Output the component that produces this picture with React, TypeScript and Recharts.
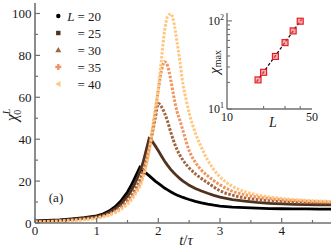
import { LineChart, Line, XAxis, YAxis, Legend, ComposedChart, Scatter } from 'recharts';

// time grid t/tau and chi_0^L for each system size
const times = [0, 0.2, 0.4, 0.6, 0.8, 1.0, 1.1, 1.2, 1.3, 1.4, 1.5, 1.55, 1.6, 1.65, 1.7, 1.75, 1.8, 1.85, 1.9, 1.95, 2.0, 2.05, 2.1, 2.15, 2.2, 2.25, 2.3, 2.35, 2.4, 2.45, 2.5, 2.6, 2.7, 2.8, 2.9, 3.0, 3.2, 3.4, 3.6, 3.8, 4.0, 4.2, 4.4, 4.6, 4.8];
const chi20 = [1.0, 1.2, 1.5, 2.0, 2.6, 3.4, 4.3, 5.7, 7.8, 10.8, 14.8, 17.4, 20.3, 23.4, 26.5, 25.0, 23.8, 22.6, 21.3, 20.0, 18.9, 17.8, 16.7, 15.8, 14.9, 14.1, 13.4, 12.8, 12.2, 11.7, 11.2, 10.3, 9.6, 9.0, 8.5, 8.1, 7.6, 7.3, 7.1, 6.9, 6.8, 6.7, 6.7, 6.6, 6.6];
const chi25 = [0.8, 1.0, 1.3, 1.7, 2.3, 3.0, 3.8, 5.0, 6.8, 9.3, 12.8, 15.0, 17.6, 20.8, 24.5, 28.6, 34.5, 40.2, 39.0, 36.8, 34.5, 32.0, 29.6, 27.5, 25.6, 24.0, 22.5, 21.2, 20.0, 19.0, 18.0, 16.5, 15.3, 14.2, 13.2, 12.4, 11.2, 10.4, 9.8, 9.4, 9.1, 8.9, 8.8, 8.7, 8.7];
const chi30 = [0.6, 0.8, 1.1, 1.5, 2.0, 2.7, 3.4, 4.4, 5.9, 8.0, 11.0, 12.8, 15.0, 17.5, 20.5, 24.5, 29.5, 35.5, 42.5, 50.0, 57.0, 55.5, 52.5, 48.5, 43.5, 39.0, 35.3, 32.3, 30.0, 28.0, 26.3, 23.5, 21.2, 19.2, 17.2, 15.4, 13.3, 12.0, 11.2, 10.6, 10.2, 10.0, 9.8, 9.7, 9.6];
const chi35 = [0.5, 0.7, 0.9, 1.3, 1.8, 2.5, 3.1, 4.0, 5.3, 7.2, 9.8, 11.5, 13.5, 15.8, 18.5, 22.5, 28.0, 35.0, 43.5, 53.5, 63.5, 72.5, 77.0, 75.0, 68.5, 60.5, 53.5, 49.0, 44.0, 39.0, 34.5, 29.0, 25.2, 22.5, 20.2, 18.2, 15.2, 13.5, 12.4, 11.7, 11.1, 10.7, 10.4, 10.2, 10.0];
const chi40 = [0.4, 0.6, 0.8, 1.1, 1.6, 2.3, 2.9, 3.7, 4.9, 6.6, 9.0, 10.6, 12.5, 14.8, 17.5, 21.5, 27.0, 34.0, 43.0, 53.0, 64.0, 78.0, 91.5, 98.5, 99.8, 96.0, 87.0, 77.0, 66.0, 59.0, 52.5, 43.0, 36.0, 30.0, 25.5, 22.0, 17.5, 15.0, 13.4, 12.4, 11.7, 11.2, 10.8, 10.5, 10.3];

const sizeLabels = ['20', '25', '30', '35', '40'];
const seriesKeys = ['L20', 'L25', 'L30', 'L35', 'L40'];
const seriesColors = ['#000000', '#50321f', '#a0643f', '#ef955f', '#ffc77f'];
const seriesMarkers = ['circle', 'square', 'triangle', 'plus', 'tleft'];

const xTicks = [0, 0.5, 1, 1.5, 2, 2.5, 3, 3.5, 4, 4.5];
const yTicks = [0, 10, 20, 30, 40, 50, 60, 70, 80, 90, 100];

// inset: peak height vs L
const insetL = [18, 20, 25, 30, 35, 40];
const insetChiMax = [21.4, 26.1, 39.5, 56.7, 77, 99.3];
const fitL = [17.5, 41];
const fitChiMax = [20.3, 104];
const insetXTicks = [10, 20, 30, 40, 50];
const insetYTicks = [10, 20, 30, 40, 50, 60, 70, 80, 90, 100];

const FONT = '"Liberation Serif", "DejaVu Serif", serif';
const AXIS = '#707070';
const TXT = '#1a1a1a';

const rows = times.map((t, i) => ({
  t,
  L20: chi20[i],
  L25: chi25[i],
  L30: chi30[i],
  L35: chi35[i],
  L40: chi40[i],
}));

const insetData = insetL.map((L, i) => ({ L, chi: insetChiMax[i] }));
const fitData = fitL.map((L, i) => ({ L, chi: fitChiMax[i] }));

function Marker({ kind, color, cx, cy }: { kind: string; color: string; cx: number; cy: number }) {
  if (kind === 'circle') return <circle cx={cx} cy={cy} r={2.2} fill={color} />;
  if (kind === 'square') return <rect x={cx - 2.2} y={cy - 2.2} width={4.4} height={4.4} fill={color} />;
  if (kind === 'triangle')
    return <polygon points={`${cx},${cy - 3} ${cx - 3},${cy + 2.2} ${cx + 3},${cy + 2.2}`} fill={color} />;
  if (kind === 'plus')
    return (
      <g fill={color}>
        <rect x={cx - 3} y={cy - 1.2} width={6} height={2.4} />
        <rect x={cx - 1.2} y={cy - 3} width={2.4} height={6} />
      </g>
    );
  return <polygon points={`${cx - 3},${cy} ${cx + 2.2},${cy - 3} ${cx + 2.2},${cy + 3}`} fill={color} />;
}

function renderLegend() {
  return (
    <svg width={70} height={90} style={{ display: 'block' }}>
      {sizeLabels.map((lab, i) => {
        const cy = 11 + i * 17;
        return (
          <g key={lab}>
            <Marker kind={seriesMarkers[i]} color={seriesColors[i]} cx={13.3} cy={cy} />
            <text x={56} y={cy + 4.5} textAnchor="end" fontSize={13} fontFamily={FONT} fill={TXT}>
              {i === 0 && <tspan fontStyle="italic">L </tspan>}= {lab}
            </text>
          </g>
        );
      })}
    </svg>
  );
}

function BottomTick(props: any) {
  const { x, y, payload } = props;
  const major = Number.isInteger(payload.value);
  return (
    <g>
      <line x1={x} x2={x} y1={y} y2={y - (major ? 5 : 3)} stroke={AXIS} strokeWidth={1.2} />
      {major && (
        <text x={x} y={y + 12} textAnchor="middle" fontSize={13} fontFamily={FONT} fill={TXT}>
          {payload.value}
        </text>
      )}
    </g>
  );
}

function LeftTick(props: any) {
  const { x, y, payload } = props;
  const major = payload.value % 20 === 0;
  return (
    <g>
      <line x1={x} x2={x + (major ? 5 : 3)} y1={y} y2={y} stroke={AXIS} strokeWidth={1.2} />
      {major && (
        <text x={x - 3.5} y={y + 4.5} textAnchor="end" fontSize={13} fontFamily={FONT} fill={TXT}>
          {payload.value}
        </text>
      )}
    </g>
  );
}

function InsetBottomTick(props: any) {
  const { x, y, payload } = props;
  const labeled = payload.value === 10 || payload.value === 50;
  return (
    <g>
      {!labeled && <line x1={x} x2={x} y1={y} y2={y - 3} stroke={AXIS} strokeWidth={1.1} />}
      {labeled && (
        <text x={x} y={y + 12} textAnchor="middle" fontSize={12} fontFamily={FONT} fill={TXT}>
          {payload.value}
        </text>
      )}
    </g>
  );
}

function InsetLeftTick(props: any) {
  const { x, y, payload } = props;
  const v = payload.value;
  const labeled = v === 10 || v === 100;
  return (
    <g>
      <line x1={x} x2={x + (labeled ? 5 : 3)} y1={y} y2={y} stroke={AXIS} strokeWidth={1.1} />
      {labeled && (
        <text x={x - 3} y={y + 4} textAnchor="end" fontSize={12} fontFamily={FONT} fill={TXT}>
          10
          <tspan fontSize={8} dy={-5}>
            {v === 10 ? '1' : '2'}
          </tspan>
        </text>
      )}
    </g>
  );
}

function RedSquare(props: any) {
  const { cx, cy } = props;
  return (
    <rect x={cx - 3} y={cy - 3} width={6} height={6} fill="rgba(255,110,110,0.6)" stroke="#e8141c" strokeWidth={1.1} />
  );
}

export default function App() {
  return (
    <div style={{ position: 'absolute', left: 0, top: 0, width: 332, height: 250, background: '#fff', fontFamily: FONT }}>
      <LineChart width={332} height={250} data={rows} margin={{ top: 3, right: 1, left: 0, bottom: 0 }}>
        <XAxis
          dataKey="t"
          type="number"
          domain={[0, 4.8]}
          ticks={xTicks}
          interval={0}
          height={27}
          allowDataOverflow
          axisLine={{ stroke: AXIS, strokeWidth: 1.6 }}
          tickLine={false}
          tickSize={0}
          tickMargin={0}
          tick={(p: any) => <BottomTick {...p} />}
        />
        <YAxis
          type="number"
          domain={[0, 105]}
          ticks={yTicks}
          interval={0}
          width={35}
          allowDataOverflow
          axisLine={{ stroke: AXIS, strokeWidth: 1.6 }}
          tickLine={false}
          tickSize={0}
          tickMargin={0}
          tick={(p: any) => <LeftTick {...p} />}
        />
        <XAxis
          xAxisId="top"
          orientation="top"
          type="number"
          domain={[0, 4.8]}
          height={0}
          tick={false}
          tickLine={false}
          axisLine={{ stroke: AXIS, strokeWidth: 1.6 }}
        />
        <YAxis
          yAxisId="right"
          orientation="right"
          type="number"
          domain={[0, 105]}
          width={0}
          tick={false}
          tickLine={false}
          axisLine={{ stroke: AXIS, strokeWidth: 1.6 }}
        />
        {seriesKeys.map((k, i) => (
          <Line
            key={k}
            dataKey={k}
            type={i < 2 ? 'linear' : 'monotone'}
            stroke={seriesColors[i]}
            strokeWidth={i < 2 ? 2.8 : 3}
            strokeDasharray={i < 2 ? undefined : '2.5 1.5'}
            dot={false}
            activeDot={false}
            isAnimationActive={false}
          />
        ))}
        <Legend
          layout="vertical"
          align="center"
          verticalAlign="middle"
          content={renderLegend}
          wrapperStyle={{ left: 45, top: 5, width: 70, height: 90 }}
        />
      </LineChart>

      <div style={{ position: 'absolute', left: 193, top: 5 }}>
        <ComposedChart width={133} height={128} margin={{ top: 8, right: 14, left: 0, bottom: 0 }}>
          <XAxis
            dataKey="L"
            type="number"
            scale="log"
            domain={[10, 50]}
            ticks={insetXTicks}
            interval={0}
            height={24}
            allowDataOverflow
            axisLine={{ stroke: AXIS, strokeWidth: 1.4 }}
            tickLine={false}
            tickSize={0}
            tickMargin={0}
            tick={(p: any) => <InsetBottomTick {...p} />}
          />
          <YAxis
            dataKey="chi"
            type="number"
            scale="log"
            domain={[10, 123]}
            ticks={insetYTicks}
            interval={0}
            width={34}
            allowDataOverflow
            axisLine={{ stroke: AXIS, strokeWidth: 1.4 }}
            tickLine={false}
            tickSize={0}
            tickMargin={0}
            tick={(p: any) => <InsetLeftTick {...p} />}
          />
          <XAxis
            xAxisId="top"
            orientation="top"
            type="number"
            domain={[10, 50]}
            height={0}
            tick={false}
            tickLine={false}
            axisLine={{ stroke: AXIS, strokeWidth: 1.4 }}
          />
          <YAxis
            yAxisId="right"
            orientation="right"
            type="number"
            domain={[10, 123]}
            width={0}
            tick={false}
            tickLine={false}
            axisLine={{ stroke: AXIS, strokeWidth: 1.4 }}
          />
          <Line
            data={fitData}
            dataKey="chi"
            type="linear"
            stroke="#111"
            strokeWidth={1.3}
            strokeDasharray="3 2"
            dot={false}
            activeDot={false}
            isAnimationActive={false}
          />
          <Scatter data={insetData} dataKey="chi" shape={(p: any) => <RedSquare {...p} />} isAnimationActive={false} />
        </ComposedChart>
      </div>

      <svg
        width={332}
        height={250}
        style={{ position: 'absolute', left: 0, top: 0, pointerEvents: 'none' }}
        fontFamily={FONT}
        fill={TXT}
      >
        <text x={186} y={245} textAnchor="middle" fontSize={15}>
          <tspan fontStyle="italic">t</tspan>/<tspan fontStyle="italic">τ</tspan>
        </text>
        <text transform="translate(17,115) rotate(-90)" textAnchor="middle" fontSize={16}>
          <tspan fontStyle="italic">χ</tspan>
          <tspan fontSize={10} fontStyle="italic" dy={-7}>L</tspan>
          <tspan fontSize={10} dx={-6} dy={11}>0</tspan>
        </text>
        <text x={56} y={202} textAnchor="middle" fontSize={13}>
          (a)
        </text>
        <text transform="translate(219,62) rotate(-90)" textAnchor="middle" fontSize={15}>
          <tspan fontStyle="italic">χ</tspan>
          <tspan fontSize={10} dy={2}>max</tspan>
        </text>
        <text x={273} y={127} textAnchor="middle" fontSize={14} fontStyle="italic">
          L
        </text>
      </svg>
    </div>
  );
}
